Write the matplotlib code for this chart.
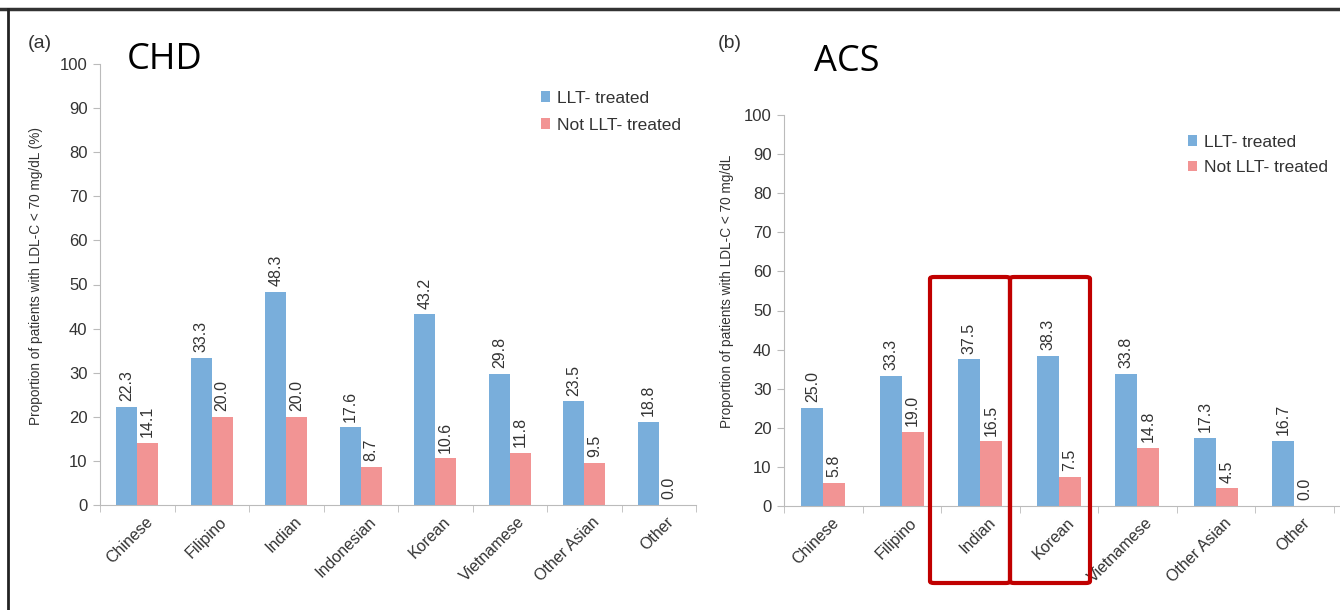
import numpy as np
import matplotlib.pyplot as plt
import matplotlib.patches as mpatches
from matplotlib.transforms import ScaledTranslation, blended_transform_factory

plt.rcParams['font.family'] = ['Liberation Sans', 'DejaVu Sans']

categories = ['Chinese', 'Filipino', 'Indian', 'Indonesian', 'Korean',
              'Vietnamese', 'Other Asian', 'Other']
chd_treated = [22.3, 33.3, 48.3, 17.6, 43.2, 29.8, 23.5, 18.8]
chd_not_treated = [14.1, 20.0, 20.0, 8.7, 10.6, 11.8, 9.5, 0.0]

acs_categories = ['Chinese', 'Filipino', 'Indian', 'Korean',
                  'Vietnamese', 'Other Asian', 'Other']
acs_treated = [25.0, 33.3, 37.5, 38.3, 33.8, 17.3, 16.7]
acs_not_treated = [5.8, 19.0, 16.5, 7.5, 14.8, 4.5, 0.0]

BLUE = '#79aedb'
RED = '#f29494'
TXT = '#333333'
W, H = 1340, 610


def draw_panel(ax, cats, treated, not_treated, ylabel, ncat, pad):
    x = np.arange(len(cats))
    bw = 0.28
    ax.bar(x - bw / 2, treated, bw, color=BLUE, label='LLT- treated')
    ax.bar(x + bw / 2, not_treated, bw, color=RED, label='Not LLT- treated')
    for xi, v in zip(x, treated):
        ax.text(xi - bw / 2, v + pad, '%.1f' % v, rotation=90, ha='center',
                va='bottom', fontsize=11.5, color=TXT)
    for xi, v in zip(x, not_treated):
        ax.text(xi + bw / 2, v + pad, '%.1f' % v, rotation=90, ha='center',
                va='bottom', fontsize=11.5, color=TXT)
    ax.set_xlim(-0.5, ncat - 0.5)
    ax.set_ylim(0, 100)
    ax.set_yticks(range(0, 101, 10))
    ax.set_xticks([])
    # rotated category labels, shifted right of the group centre
    trans = blended_transform_factory(ax.transData, ax.transAxes) + \
        ScaledTranslation(0.075, -0.09, ax.figure.dpi_scale_trans)
    for xi, c in zip(x, cats):
        ax.text(xi, 0, c, transform=trans, rotation=45, ha='right', va='top',
                rotation_mode='anchor', fontsize=11.5, color=TXT)
    ax.set_xticks(np.arange(ncat + 1) - 0.5, minor=True)
    ax.tick_params(axis='x', which='minor', length=5, color='#bbbbbb')
    ax.tick_params(axis='y', length=5, color='#bbbbbb', labelsize=12,
                   labelcolor=TXT, pad=4)
    for s in ['top', 'right']:
        ax.spines[s].set_visible(False)
    for s in ['left', 'bottom']:
        ax.spines[s].set_color('#bbbbbb')
    ax.set_ylabel(ylabel, fontsize=9.8, color=TXT)
    ax.set_facecolor('none')


fig = plt.figure(figsize=(W / 100, H / 100), dpi=100)

ax1 = fig.add_axes([100 / W, 105 / H, 596 / W, 441 / H])
draw_panel(ax1, categories, chd_treated, chd_not_treated,
           'Proportion of patients with LDL-C < 70 mg/dL (%)', 8, 1.3)
ax1.yaxis.set_label_coords(-(100 - 43) / 596, 0.52)
ax1.legend(loc='upper left', bbox_to_anchor=(425 / 596, 0.975), frameon=False,
           fontsize=12.5, handlelength=0.55, handleheight=0.55, handletextpad=0.4,
           labelspacing=0.7, labelcolor=TXT)

ax2 = fig.add_axes([784 / W, 104 / H, 628 / W, 391 / H])
draw_panel(ax2, acs_categories, acs_treated, acs_not_treated,
           'Proportion of patients with LDL-C < 70 mg/dL', 8, 1.5)
ax2.yaxis.set_label_coords(-(784 - 734) / 628, 0.55)
ax2.legend(loc='upper left', bbox_to_anchor=(388 / 628, 0.99), frameon=False,
           fontsize=12.5, handlelength=0.55, handleheight=0.55, handletextpad=0.4,
           labelspacing=0.6, labelcolor=TXT)

# panel letters and titles
fig.text(28 / W, 1 - 44 / H, '(a)', fontsize=14, color=TXT, va='center')
fig.text(718 / W, 1 - 44 / H, '(b)', fontsize=14, color=TXT, va='center')
fig.text(127 / W, 1 - 60 / H, 'CHD', fontsize=26, family=['Open Sans', 'DejaVu Sans'],
         va='center')
fig.text(814 / W, 1 - 62 / H, 'ACS', fontsize=26, family=['Open Sans', 'DejaVu Sans'],
         va='center')

# highlight boxes
for x0 in [930, 1010]:
    fig.patches.append(mpatches.FancyBboxPatch(
        (x0 / W, (H - 583) / H), 80 / W, 306 / H,
        boxstyle='round,pad=0,rounding_size=0.003', transform=fig.transFigure,
        fill=False, edgecolor='#c00000', linewidth=3))

# frame lines
fig.add_artist(plt.Line2D([0, 1], [1 - 8.5 / H] * 2, color='#333333', lw=2.5))
fig.add_artist(plt.Line2D([8 / W] * 2, [0, 1 - 8.5 / H], color='#222222', lw=2))

fig.savefig('out.png', dpi=100)
